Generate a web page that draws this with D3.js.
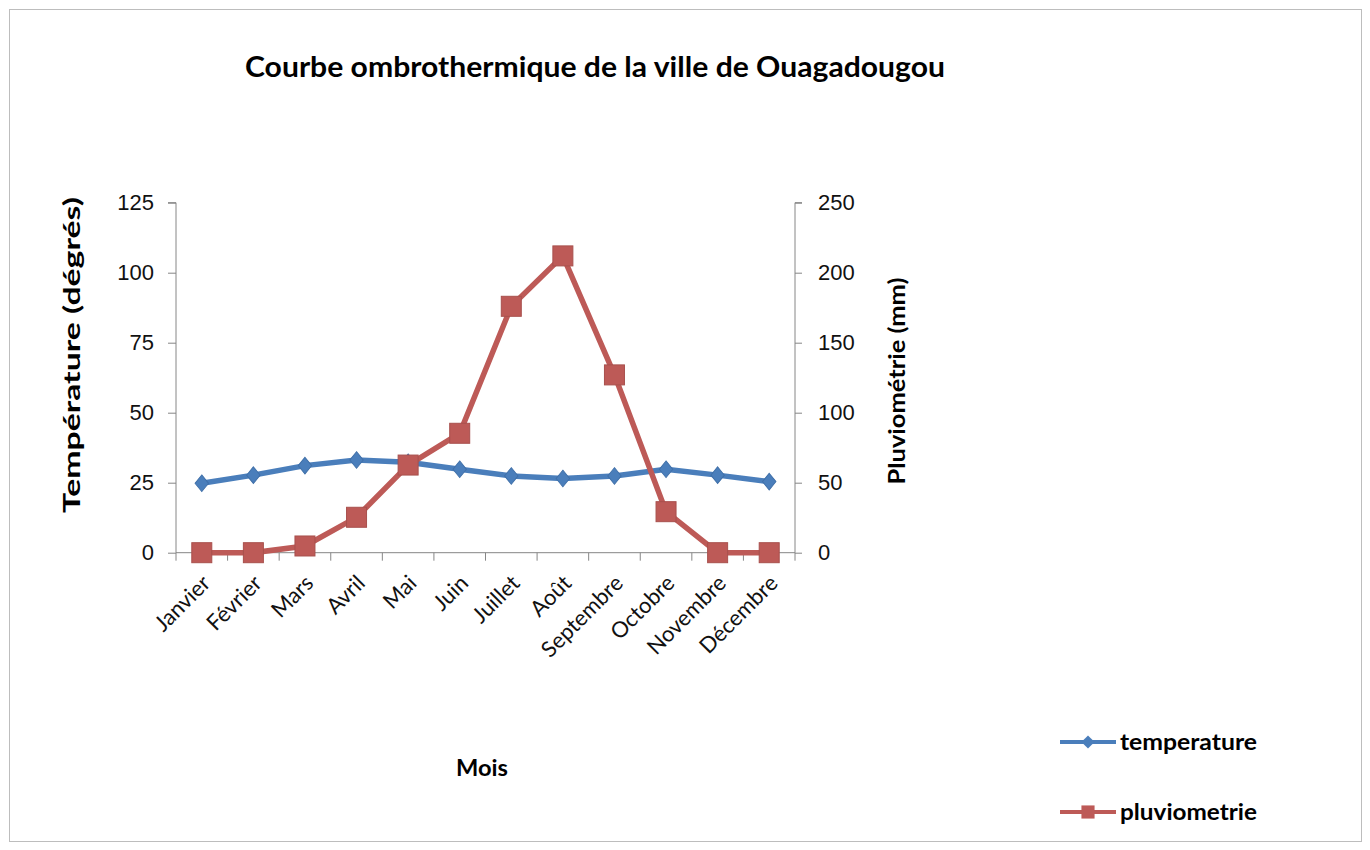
<!DOCTYPE html>
<html>
<head>
<meta charset="utf-8">
<script src="https://cdn.jsdelivr.net/npm/d3@7"></script>
<style>
  body { margin: 0; background: #fff; }
  svg { font-family: Lato, "Open Sans", sans-serif; }
  .axis path, .axis line { stroke: #868686; }
</style>
</head>
<body>
<svg width="1370" height="850"></svg>
<script>
const months = ['Janvier', 'Février', 'Mars', 'Avril', 'Mai', 'Juin', 'Juillet', 'Août', 'Septembre', 'Octobre', 'Novembre', 'Décembre'];
const temperature = [24.8, 27.7, 31.1, 33.1, 32.3, 29.8, 27.4, 26.5, 27.4, 29.8, 27.7, 25.4];
const pluviometrie = [0, 0, 4.8, 25.3, 62.6, 85.3, 176, 212, 127, 29.3, 0, 0];
const tempTicks = [0, 25, 50, 75, 100, 125];
const pluvioTicks = [0, 50, 100, 150, 200, 250];

const svg = d3.select('svg');

// chart frame
svg.append('rect')
  .attr('x', 9.5).attr('y', 9.5)
  .attr('width', 1352).attr('height', 832)
  .attr('fill', '#fff').attr('stroke', '#bdbdbd');

const x = d3.scaleBand().domain(months).range([176, 795]);
const yT = d3.scaleLinear().domain([0, 125]).range([552.7, 202.7]);
const yP = d3.scaleLinear().domain([0, 250]).range([552.7, 202.7]);

const tempColor = '#4a7ebb';
const pluvioColor = '#bd5a57';

// left axis
const gl = svg.append('g').attr('class', 'axis')
  .attr('transform', 'translate(176,0)')
  .call(d3.axisLeft(yT).tickValues(tempTicks).tickSize(8).tickPadding(14));
gl.select('.domain').attr('d', `M-8,${yT(125)}H0V${yT(0)}`);

// right axis
const gr = svg.append('g').attr('class', 'axis')
  .attr('transform', 'translate(795,0)')
  .call(d3.axisRight(yP).tickValues(pluvioTicks).tickSize(7).tickPadding(16));
gr.select('.domain').attr('d', `M7,${yP(250)}H0V${yP(0)}`);

svg.selectAll('.axis text')
  .attr('font-size', 22).attr('fill', '#111');

// x axis line and ticks between months
const gx = svg.append('g').attr('class', 'axis');
gx.append('line')
  .attr('x1', x.range()[0]).attr('x2', x.range()[1])
  .attr('y1', yT(0)).attr('y2', yT(0));
gx.selectAll('.xtick').data(d3.range(months.length + 1))
  .enter().append('line')
  .attr('class', 'xtick')
  .attr('x1', i => x.range()[0] + i * x.step())
  .attr('x2', i => x.range()[0] + i * x.step())
  .attr('y1', yT(0)).attr('y2', yT(0) + 8);

const cx = d => x(d) + x.bandwidth() / 2;

svg.append('g').selectAll('text').data(months)
  .enter().append('text')
  .attr('transform', d => `translate(${cx(d) - 1}, ${yT(0) + 21}) rotate(-45)`)
  .attr('text-anchor', 'end')
  .attr('dy', '0.7em')
  .attr('font-size', 22)
  .attr('fill', '#111')
  .text(d => d);

// lines
const tempLine = d3.line().x((d, i) => cx(months[i])).y(d => yT(d));
const pluvioLine = d3.line().x((d, i) => cx(months[i])).y(d => yP(d));

svg.append('path').datum(temperature)
  .attr('d', tempLine).attr('fill', 'none')
  .attr('stroke', tempColor).attr('stroke-width', 5.5);

svg.append('g').selectAll('path').data(temperature)
  .enter().append('path')
  .attr('d', d3.symbol(d3.symbolDiamond2, 160)())
  .attr('transform', (d, i) => `translate(${cx(months[i])}, ${yT(d)}) scale(0.85,1.05)`)
  .attr('fill', tempColor).attr('stroke', '#3f6fa8').attr('stroke-width', 1);

svg.append('path').datum(pluviometrie)
  .attr('d', pluvioLine).attr('fill', 'none')
  .attr('stroke', pluvioColor).attr('stroke-width', 5.5);

svg.append('g').selectAll('rect').data(pluviometrie)
  .enter().append('rect')
  .attr('x', (d, i) => cx(months[i]) - 10)
  .attr('y', d => yP(d) - 10)
  .attr('width', 20).attr('height', 20)
  .attr('fill', pluvioColor).attr('stroke', '#a8504d').attr('stroke-width', 1);

// titles
svg.append('text')
  .attr('x', 245).attr('y', 77)
  .attr('font-size', 28).attr('font-weight', 'bold')
  .attr('textLength', 700).attr('lengthAdjust', 'spacingAndGlyphs')
  .text('Courbe ombrothermique de la ville de Ouagadougou');

svg.append('text')
  .attr('transform', 'translate(80, 355) rotate(-90)')
  .attr('text-anchor', 'middle')
  .attr('font-size', 22).attr('font-weight', 'bold')
  .attr('textLength', 316).attr('lengthAdjust', 'spacingAndGlyphs')
  .text('Température (dégrés)');

svg.append('text')
  .attr('transform', 'translate(905, 381) rotate(-90)')
  .attr('text-anchor', 'middle')
  .attr('font-size', 22).attr('font-weight', 'bold')
  .attr('textLength', 207).attr('lengthAdjust', 'spacingAndGlyphs')
  .text('Pluviométrie (mm)');

svg.append('text')
  .attr('x', 456).attr('y', 776)
  .attr('font-size', 22).attr('font-weight', 'bold')
  .attr('textLength', 52).attr('lengthAdjust', 'spacingAndGlyphs')
  .text('Mois');

// legend
const legendItems = [
  { name: 'temperature', color: tempColor, shape: 'diamond' },
  { name: 'pluviometrie', color: pluvioColor, shape: 'square' }
];
const lg = svg.append('g').selectAll('g').data(legendItems)
  .enter().append('g')
  .attr('transform', (d, i) => `translate(1060, ${742 + i * 70})`);
lg.append('line')
  .attr('x1', 0).attr('x2', 56)
  .attr('stroke', d => d.color).attr('stroke-width', 4);
lg.append('path')
  .attr('transform', 'translate(28,0)')
  .attr('d', d => d.shape === 'diamond'
    ? d3.symbol(d3.symbolDiamond2, 110)()
    : d3.symbol(d3.symbolSquare2, 220)())
  .attr('fill', d => d.color);
lg.append('text')
  .attr('x', 60).attr('dy', '0.35em')
  .attr('font-size', 22).attr('font-weight', 'bold')
  .attr('textLength', 137).attr('lengthAdjust', 'spacingAndGlyphs')
  .text(d => d.name);
</script>
</body>
</html>
